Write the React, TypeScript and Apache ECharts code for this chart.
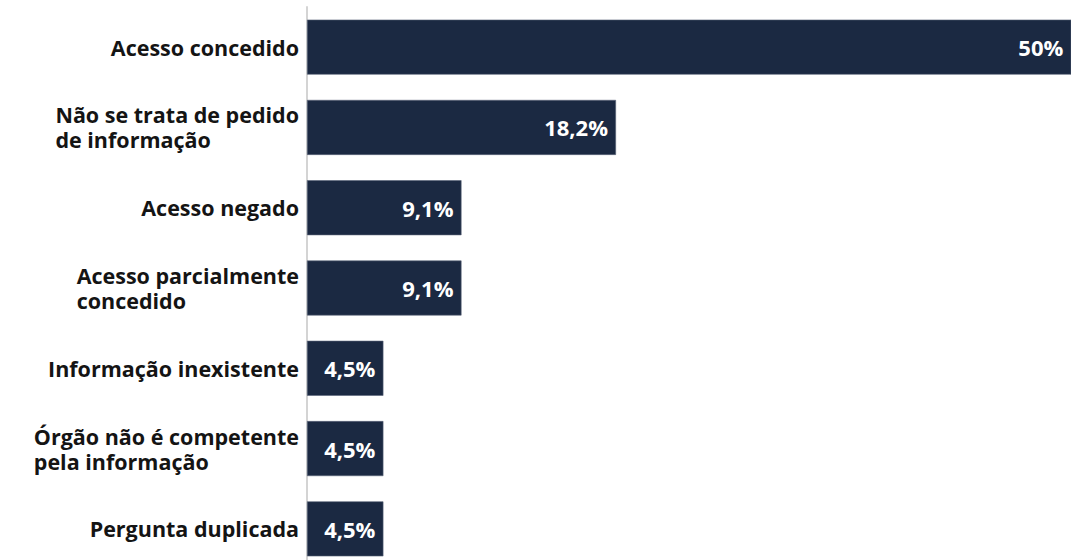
import React, { useEffect, useRef } from "react";
import * as echarts from "echarts";

const categories = [
  "Acesso concedido",
  "Não se trata de pedido\nde informação",
  "Acesso negado",
  "Acesso parcialmente\nconcedido",
  "Informação inexistente",
  "Órgão não é competente\npela informação",
  "Pergunta duplicada",
];
const values = [50, 18.2, 9.1, 9.1, 4.5, 4.5, 4.5];
const valueLabels = ["50%", "18,2%", "9,1%", "9,1%", "4,5%", "4,5%", "4,5%"];

export default function App() {
  const ref = useRef<HTMLDivElement>(null);
  useEffect(() => {
    document.body.style.margin = "0";
    document.body.style.overflow = "hidden";
    document.documentElement.style.overflow = "hidden";
    const chart = echarts.init(ref.current!, undefined, { renderer: "svg" });
    chart.setOption({
      animation: false,
      grid: { left: 307, right: 0, top: 7, bottom: 3, containLabel: false },
      xAxis: {
        type: "value",
        min: 0,
        max: 45,
        show: false,
      },
      yAxis: {
        type: "category",
        inverse: true,
        data: categories,
        axisLine: { show: true, lineStyle: { color: "#d4d4d4", width: 2 } },
        axisTick: { show: false },
        axisLabel: {
          margin: 8,
          formatter: (v: string) =>
            v
              .split("\n")
              .map((l) => `{a|${l}}`)
              .join("\n"),
          rich: {
            a: {
              align: "left",
              fontFamily: "Open Sans",
              fontWeight: "bold",
              fontSize: 21.5,
              lineHeight: 25,
              color: "#141414",
            },
          },
        },
      },
      series: [
        {
          type: "bar",
          data: values,
          barWidth: 55,
          clip: true,
          itemStyle: { color: "#1b2942", borderColor: "#5a6478", borderWidth: 0.6 },
          label: {
            show: true,
            position: "insideRight",
            distance: 8,
            color: "#ffffff",
            fontFamily: "Open Sans",
            fontWeight: "bold",
            fontSize: 22,
            formatter: (p: any) => valueLabels[p.dataIndex],
          },
        },
      ],
    });
    return () => chart.dispose();
  }, []);
  return <div ref={ref} style={{ width: 1071, height: 572 }} />;
}
